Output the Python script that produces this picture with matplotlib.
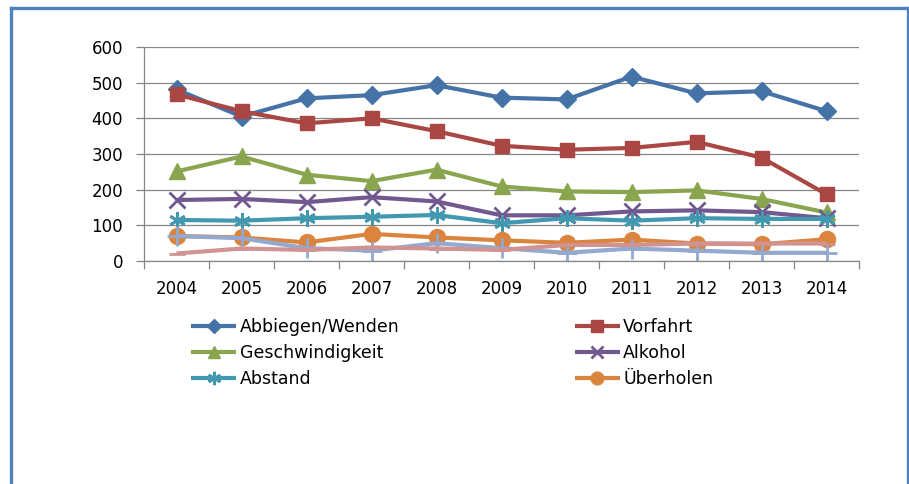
import numpy as np
import matplotlib
matplotlib.use("Agg")
import matplotlib.pyplot as plt
from matplotlib.lines import Line2D

years = ["2004", "2005", "2006", "2007", "2008", "2009",
         "2010", "2011", "2012", "2013", "2014"]

abbiegen = [481, 405, 456, 465, 493, 458, 453, 517, 470, 476, 420]
vorfahrt = [467, 420, 386, 400, 364, 323, 312, 317, 334, 290, 187]
geschwindigkeit = [251, 293, 242, 224, 256, 209, 195, 193, 198, 174, 136]
alkohol = [171, 174, 165, 179, 167, 128, 128, 139, 142, 137, 120]
abstand = [115, 113, 120, 124, 129, 106, 120, 113, 120, 118, 118]
ueberholen = [70, 66, 52, 76, 66, 58, 51, 60, 49, 47, 61]
# two extra series without legend entry
extra_blue = [70, 64, 36, 29, 50, 36, 23, 35, 29, 23, 23]
extra_pink = [21, 35, 31, 38, 35, 31, 45, 45, 49, 49, 49]

W, H = 909, 484
fig = plt.figure(figsize=(W / 100, H / 100), dpi=100)
ax = fig.add_axes([144 / W, 1 - 261 / H, (859 - 144) / W, (261 - 47) / H])

x = np.arange(len(years))
lw = 3

# (label, values, colour, marker, markersize, markeredgewidth)
series = [
    ("Abbiegen/Wenden", abbiegen, "#4572A7", "D", 9.5, 1),
    ("Vorfahrt", vorfahrt, "#AA4643", "s", 10.5, 1),
    ("Geschwindigkeit", geschwindigkeit, "#89A54E", "^", 11.5, 1),
    ("Alkohol", alkohol, "#71588F", "x", 11, 2),
    ("Abstand", abstand, "#4198AF", (6, 2, 0), 12, 2),
    ("Überholen", ueberholen, "#DB843D", "o", 11.5, 1),
    ("_extra1", extra_blue, "#93A9CF", "+", 14, 2),
    ("_extra2", extra_pink, "#D19392", "_", 12, 2),
]

for label, vals, col, mk, ms, mew in series:
    ax.plot(x, vals, color=col, lw=lw, marker=mk, ms=ms, mew=mew,
            mec=col, mfc=col, label=label, solid_capstyle="butt")

ax.set_xlim(-0.5, len(years) - 0.5)
ax.set_ylim(0, 600)
ax.set_yticks(np.arange(0, 601, 100))
ax.yaxis.grid(True, color="#868686", lw=0.9)
ax.set_axisbelow(True)

# category boundaries get the tick marks, labels sit in between
ax.set_xticks(np.arange(-0.5, len(years)), labels=[""] * (len(years) + 1))
ax.set_xticks(x, labels=years, minor=True)
ax.tick_params(axis="x", which="major", length=6, color="#868686", width=0.9)
ax.tick_params(axis="x", which="minor", length=0, pad=14, labelsize=12)
ax.tick_params(axis="y", length=6, color="#868686", width=0.9, pad=9,
               labelsize=12)

for s in ["top", "right"]:
    ax.spines[s].set_visible(False)
for s in ["left", "bottom"]:
    ax.spines[s].set_color("#868686")
    ax.spines[s].set_linewidth(0.9)

handles, labels = ax.get_legend_handles_labels()
order = [0, 2, 4, 1, 3, 5]
leg = fig.legend([handles[i] for i in order], [labels[i] for i in order],
                 ncol=2, loc="upper left",
                 bbox_to_anchor=(191 / W, 1 - 318 / H),
                 frameon=False, fontsize=12.5, borderpad=0, borderaxespad=0,
                 handlelength=2.6, handletextpad=0.2, labelspacing=0.45,
                 columnspacing=10.1, markerscale=0.8)

# blue frame around the chart (open at the bottom)
frame_col = "#4F81BD"
for xs, ys in [([10.5, 10.5], [0, 7.5]), ([10.5, 907.5], [7.5, 7.5]),
               ([907.5, 907.5], [7.5, 0])]:
    fig.add_artist(Line2D([v / W for v in xs],
                          [1 - v / H if v > 0 else 0 for v in ys],
                          color=frame_col, lw=2.4, transform=fig.transFigure))

fig.savefig("out.png", dpi=100)
